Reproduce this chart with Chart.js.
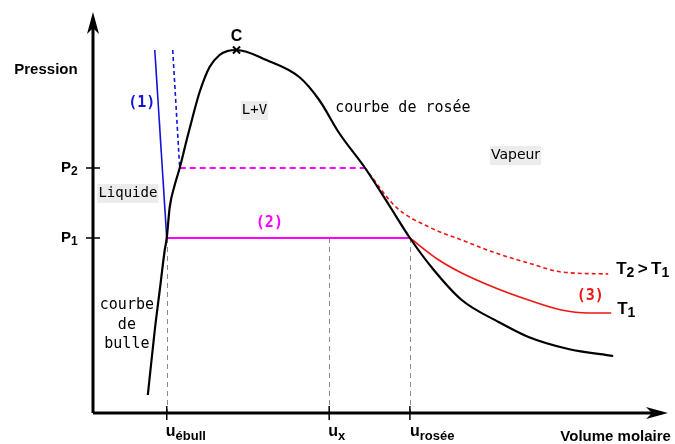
<!DOCTYPE html>
<html lang="fr">
<head>
<meta charset="utf-8">
<title>Diagramme P - volume molaire</title>
<script src="https://cdn.jsdelivr.net/npm/chart.js@4.4.1/dist/chart.umd.min.js"></script>
<style>
  html, body { margin: 0; padding: 0; background: #fff; }
  #wrap { width: 675px; height: 444px; }
</style>
</head>
<body>
<div id="wrap"><canvas id="diagram" width="675" height="444"></canvas></div>
<script>
/* ============================================
   Data (volume molaire / pression, unités arbitraires)
   ============================================ */

// Courbe de saturation : bulle (gauche) + rosée (droite), passant par C
const SAT_V = [55, 62, 67, 72, 74, 77, 82, 87, 94, 100, 107, 117, 127, 135, 144,
               174, 207, 227, 247, 273, 297, 318, 342, 370, 407, 437, 477, 522];
const SAT_P = [18, 83, 123, 163, 175, 206, 228, 245, 273, 296, 321, 346, 358, 362, 363,
               353, 336, 313, 280, 245, 208, 175, 143, 113, 91, 76, 64, 57];

// Point critique C
const CRIT_V = [144];
const CRIT_P = [363];

// Isothermes liquides (1)
const LIQ1_V = [62, 74];
const LIQ1_P = [363, 175];
const LIQ2_V = [80, 87];
const LIQ2_P = [363, 245];

// Paliers de vaporisation (2)
const PALIER1_V = [74, 318];
const PALIER1_P = [175, 175];
const PALIER2_V = [87, 273];
const PALIER2_P = [245, 245];

// Isothermes vapeur (3) : T1 et T2 > T1
const VAP1_V = [318, 347, 370, 404, 437, 470, 497, 520];
const VAP1_P = [175, 153, 140, 125, 113, 103, 100, 100];
const VAP2_V = [273, 304, 337, 370, 404, 437, 470, 517];
const VAP2_P = [245, 206, 186, 173, 160, 150, 141, 139];

// Repères sur les axes
const U_MARKS = [74, 237, 318];      // u_ébull, u_x, u_rosée
const P_MARKS = [245, 175];         // P2, P1

const zip = (xs, ys) => xs.map((x, i) => ({ x: x, y: ys[i] }));

/* ---------- Colors & fonts ---------- */
const COLORS = {
  ink: '#000000',
  blue: '#1414d8',
  magenta: '#ff00ff',
  red: '#ee1515',
  guide: '#8a8a8a',
  tag: '#ececec'
};
const SANS = "'Liberation Sans', Arial, sans-serif";
const MONO = "'DejaVu Sans Mono', monospace";

/* ---------- Labels (data coordinates) ---------- */
const LABELS = [
  { x: -79, y: 343, align: 'left', font: 'bold 15px ' + SANS, segs: [{ t: 'Pression' }] },
  { x: -32, y: 245, align: 'left', font: 'bold 15px ' + SANS, segs: [{ t: 'P' }, { t: '2', sub: true }] },
  { x: -32, y: 175, align: 'left', font: 'bold 15px ' + SANS, segs: [{ t: 'P' }, { t: '1', sub: true }] },
  { x: 144, y: 376, align: 'center', font: 'bold 16px ' + SANS, segs: [{ t: 'C' }] },
  { x: 49, y: 310, align: 'center', font: 'bold 15px ' + MONO, color: COLORS.blue, segs: [{ t: '(1)' }] },
  { x: 162, y: 303, align: 'center', font: '14px ' + MONO, bg: true, segs: [{ t: 'L+V' }] },
  { x: 243, y: 305, align: 'left', font: '15px ' + MONO, segs: [{ t: 'courbe de rosée' }] },
  { x: 424, y: 258, align: 'center', font: "14px 'DejaVu Sans', sans-serif", bg: true, segs: [{ t: 'Vapeur' }] },
  { x: 35, y: 220, align: 'center', font: '14px ' + MONO, bg: true, segs: [{ t: 'Liquide' }] },
  { x: 177, y: 190, align: 'center', font: 'bold 15px ' + MONO, color: COLORS.magenta, segs: [{ t: '(2)' }] },
  { x: 525, y: 144, align: 'left', font: 'bold 17px ' + SANS,
    segs: [{ t: 'T' }, { t: '2', sub: true }, { t: '\u2009>\u2009' }, { t: 'T' }, { t: '1', sub: true }] },
  { x: 499, y: 117, align: 'center', font: 'bold 15px ' + MONO, color: COLORS.red, segs: [{ t: '(3)' }] },
  { x: 526, y: 104, align: 'left', font: 'bold 17px ' + SANS, segs: [{ t: 'T' }, { t: '1', sub: true }] },
  { x: 34, y: 108, align: 'center', font: '15px ' + MONO, segs: [{ t: 'courbe' }] },
  { x: 34, y: 88, align: 'center', font: '15px ' + MONO, segs: [{ t: 'de' }] },
  { x: 34, y: 69, align: 'center', font: '15px ' + MONO, segs: [{ t: 'bulle' }] },
  { x: 73, y: -19, align: 'left', font: 'bold 16px ' + SANS, segs: [{ t: 'u' }, { t: 'ébull', sub: true }] },
  { x: 236, y: -19, align: 'left', font: 'bold 16px ' + SANS, segs: [{ t: 'u' }, { t: 'x', sub: true }] },
  { x: 318, y: -19, align: 'left', font: 'bold 16px ' + SANS, segs: [{ t: 'u' }, { t: 'rosée', sub: true }] },
  { x: 469, y: -24, align: 'left', font: 'bold 15px ' + SANS, segs: [{ t: 'Volume molaire' }] }
];

/* ---------- Helpers ---------- */
function subFont(font) {
  return font.replace(/(\d+)px/, (m, n) => Math.round(n * 0.82) + 'px');
}

function drawStealth(ctx, tx, ty, dx, dy) {
  // flèche pointue, dos creusé
  const len = 22, half = 6, notch = 16;
  const nx = -dy, ny = dx;
  ctx.beginPath();
  ctx.moveTo(tx, ty);
  ctx.lineTo(tx - dx * len + nx * half, ty - dy * len + ny * half);
  ctx.lineTo(tx - dx * notch, ty - dy * notch);
  ctx.lineTo(tx - dx * len - nx * half, ty - dy * len - ny * half);
  ctx.closePath();
  ctx.fill();
}

/* ---------- Axes plugin ---------- */
const axesPlugin = {
  id: 'axes',
  beforeDatasetsDraw(chart) {
    const { ctx, chartArea, scales } = chart;
    const x0 = chartArea.left, y0 = chartArea.bottom;
    ctx.save();
    ctx.strokeStyle = COLORS.ink;
    ctx.fillStyle = COLORS.ink;

    // repères pointillés verticaux
    ctx.lineWidth = 1;
    ctx.strokeStyle = COLORS.guide;
    ctx.setLineDash([5, 4]);
    U_MARKS.forEach(u => {
      const px = Math.round(scales.x.getPixelForValue(u)) + 0.5;
      ctx.beginPath();
      ctx.moveTo(px, scales.y.getPixelForValue(175));
      ctx.lineTo(px, y0);
      ctx.stroke();
    });
    ctx.setLineDash([]);

    // axes
    ctx.strokeStyle = COLORS.ink;
    ctx.lineWidth = 3;
    ctx.beginPath();
    ctx.moveTo(x0, y0);
    ctx.lineTo(x0, chartArea.top + 6);
    ctx.moveTo(x0, y0);
    ctx.lineTo(chartArea.right - 6, y0);
    ctx.stroke();
    drawStealth(ctx, x0, chartArea.top, 0, -1);
    drawStealth(ctx, chartArea.right, y0, 1, 0);

    // graduations
    ctx.lineWidth = 1.5;
    ctx.beginPath();
    P_MARKS.forEach(p => {
      const py = scales.y.getPixelForValue(p);
      ctx.moveTo(x0 - 7, py);
      ctx.lineTo(x0 + 7, py);
    });
    U_MARKS.forEach(u => {
      const px = scales.x.getPixelForValue(u);
      ctx.moveTo(px, y0 - 7);
      ctx.lineTo(px, y0 + 7);
    });
    ctx.stroke();
    ctx.restore();
  }
};

/* ---------- Labels plugin ---------- */
const labelsPlugin = {
  id: 'labels',
  afterDatasetsDraw(chart) {
    const { ctx, scales } = chart;
    ctx.save();
    ctx.textBaseline = 'middle';
    ctx.textAlign = 'left';
    LABELS.forEach(lab => {
      const small = subFont(lab.font);
      const widths = lab.segs.map(s => {
        ctx.font = s.sub ? small : lab.font;
        return ctx.measureText(s.t).width;
      });
      const total = widths.reduce((a, b) => a + b, 0);
      let px = scales.x.getPixelForValue(lab.x);
      const py = scales.y.getPixelForValue(lab.y);
      if (lab.align === 'center') px -= total / 2;

      if (lab.bg) {
        ctx.fillStyle = COLORS.tag;
        ctx.fillRect(px - 1, py - 9, total + 2, 19);
      }
      ctx.fillStyle = lab.color || COLORS.ink;
      lab.segs.forEach((s, i) => {
        ctx.font = s.sub ? small : lab.font;
        ctx.fillText(s.t, px, s.sub ? py + 4 : py);
        px += widths[i];
      });
    });
    ctx.restore();
  }
};

/* ---------- Chart ---------- */
const lineSet = (data, color, width, dash, smooth) => ({
  data: data,
  showLine: true,
  borderColor: color,
  borderWidth: width,
  borderDash: dash || [],
  pointRadius: 0,
  fill: false,
  cubicInterpolationMode: smooth ? 'monotone' : 'default',
  tension: 0
});

new Chart(document.getElementById('diagram'), {
  type: 'scatter',
  data: {
    datasets: [
      lineSet(zip(SAT_V, SAT_P), COLORS.ink, 2.2, null, true),
      lineSet(zip(LIQ1_V, LIQ1_P), COLORS.blue, 1.6),
      lineSet(zip(LIQ2_V, LIQ2_P), COLORS.blue, 1.6, [4, 3]),
      lineSet(zip(PALIER1_V, PALIER1_P), COLORS.magenta, 2),
      lineSet(zip(PALIER2_V, PALIER2_P), COLORS.magenta, 2, [6, 4]),
      lineSet(zip(VAP1_V, VAP1_P), COLORS.red, 1.6, null, true),
      lineSet(zip(VAP2_V, VAP2_P), COLORS.red, 1.6, [4, 3], true),
      {
        data: zip(CRIT_V, CRIT_P),
        pointStyle: 'crossRot',
        pointRadius: 5,
        borderColor: COLORS.ink,
        borderWidth: 2
      }
    ]
  },
  options: {
    responsive: false,
    animation: false,
    events: [],
    layout: { padding: { left: 93, top: 12, right: 5, bottom: 31 } },
    plugins: {
      legend: { display: false },
      tooltip: { enabled: false }
    },
    scales: {
      x: { type: 'linear', display: false, min: 0, max: 577 },
      y: { type: 'linear', display: false, min: 0, max: 401 }
    }
  },
  plugins: [axesPlugin, labelsPlugin]
});
</script>
</body>
</html>
